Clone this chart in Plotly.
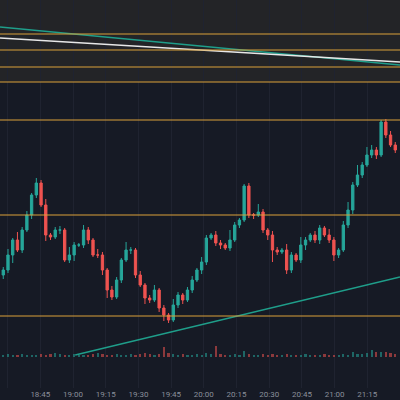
import plotly.graph_objects as go
from datetime import datetime, timedelta

# closes (price units = 400 - pixel y)
closes = [130, 145, 160, 150, 170, 185, 205, 217, 195, 165, 163, 170, 170, 140, 145, 155,
          155, 170, 160, 145, 145, 130, 110, 103, 120, 140, 150, 150, 125, 115, 102, 100,
          110, 92, 85, 80, 95, 105, 100, 110, 120, 130, 138, 162, 165, 157, 155, 152,
          160, 175, 180, 214, 185, 185, 188, 170, 165, 150, 148, 150, 130, 145, 140, 155,
          160, 165, 160, 172, 165, 160, 145, 150, 175, 190, 215, 225, 235, 245, 250, 245,
          278, 265, 255, 250]
opens = [125] + closes[:-1]
wick_up = [3, 6, 2, 8, 3, 4, 2, 5, 3, 6, 2, 3, 4, 2, 8, 3, 2, 5, 3, 2, 6, 3, 2, 4, 3, 2,
           8, 3, 2, 4, 2, 3, 5, 2, 3, 2, 6, 3, 2, 3, 4, 2, 5, 3, 2, 4, 3, 2, 10, 3, 2, 2,
           3, 2, 8, 3, 2, 4, 3, 2, 6, 3, 2, 8, 3, 2, 4, 3, 2, 6, 3, 2, 4, 8, 3, 10, 3, 8,
           5, 3, 2, 3, 4, 3]
wick_dn = [4, 3, 8, 2, 3, 2, 4, 3, 2, 6, 3, 2, 4, 2, 3, 6, 2, 3, 4, 2, 3, 5, 8, 3, 2, 3,
           2, 4, 3, 2, 6, 3, 2, 4, 6, 3, 2, 3, 4, 2, 3, 2, 4, 3, 2, 3, 4, 2, 3, 2, 3, 2,
           3, 4, 2, 3, 5, 12, 3, 2, 4, 3, 2, 3, 5, 2, 3, 4, 2, 3, 6, 3, 2, 3, 4, 2, 3, 2,
           3, 4, 2, 3, 2, 3]
volumes = [2, 3, 2, 2, 3, 2, 2, 2, 3, 2, 3, 4, 3, 2, 2, 3, 2, 2, 2, 3, 4, 3, 2, 2, 3, 2,
           2, 3, 2, 3, 4, 3, 2, 3, 10, 4, 3, 2, 3, 2, 2, 3, 2, 4, 3, 11, 3, 2, 2, 3, 2, 6,
           3, 2, 2, 3, 2, 3, 2, 2, 3, 2, 2, 2, 3, 2, 2, 2, 3, 2, 2, 2, 3, 2, 5, 3, 3, 4,
           7, 5, 5, 5, 4, 3]
levels = [366, 350, 333, 318, 280, 185, 84]
teal_down = [373, 335]
white_down = [362, 338]
teal_up = [45, 123]

start = datetime(2024, 1, 1, 18, 28)
times = [start + timedelta(seconds=130 * i) for i in range(len(closes))]
highs = [max(o, c) + w for o, c, w in zip(opens, closes, wick_up)]
lows = [min(o, c) - w for o, c, w in zip(opens, closes, wick_dn)]
vcolors = ["rgba(38,166,154,0.55)" if c >= o else "rgba(239,83,80,0.55)" for o, c in zip(opens, closes)]

x0 = datetime(2024, 1, 1, 18, 26, 30)
x1 = datetime(2024, 1, 1, 21, 30)
tu0 = datetime(2024, 1, 1, 19, 1)

fig = go.Figure()
fig.add_trace(go.Bar(x=times, y=volumes, marker_color=vcolors, marker_line_width=0,
                     yaxis="y2", width=60000))
fig.add_trace(go.Candlestick(x=times, open=opens, high=highs, low=lows, close=closes,
                             increasing=dict(line=dict(color="#26a69a", width=1), fillcolor="#26a69a"),
                             decreasing=dict(line=dict(color="#ef5350", width=1), fillcolor="#ef5350"),
                             whiskerwidth=0))
fig.add_trace(go.Scatter(x=[x0, x1], y=teal_down, mode="lines", line=dict(color="#1f9e8a", width=1.5)))
fig.add_trace(go.Scatter(x=[x0, x1], y=white_down, mode="lines", line=dict(color="#e8e8e8", width=1.5)))
fig.add_trace(go.Scatter(x=[tu0, x1], y=teal_up, mode="lines", line=dict(color="#1f9e8a", width=1.5)))

fig.add_shape(type="rect", xref="paper", yref="y", x0=0, x1=1, y0=318, y1=400,
              fillcolor="#232427", line_width=0, layer="below")
for lv in levels:
    fig.add_shape(type="line", xref="paper", yref="y", x0=0, x1=1, y0=lv, y1=lv,
                  line=dict(color="#d9a03a", width=1.2))

fig.update_layout(
    width=400, height=400, margin=dict(l=0, r=0, t=0, b=12),
    paper_bgcolor="#161a25", plot_bgcolor="#161a25", showlegend=False,
    xaxis=dict(range=[x0, x1], rangeslider=dict(visible=False), tickformat="%H:%M",
               dtick=15 * 60 * 1000, tick0=datetime(2024, 1, 1, 18, 30), ticklen=0,
               tickfont=dict(family="Roboto", size=8, color="#8a8f9a"),
               gridcolor="#1f2330", zeroline=False, showline=False),
    yaxis=dict(range=[12, 400], showticklabels=False, showgrid=False, zeroline=False),
    yaxis2=dict(range=[-31, 357], overlaying="y", showticklabels=False, showgrid=False,
                zeroline=False),
    bargap=0,
)
fig.write_html("out.html", config={"displayModeBar": False},
               post_script="document.body.style.margin='0';")
